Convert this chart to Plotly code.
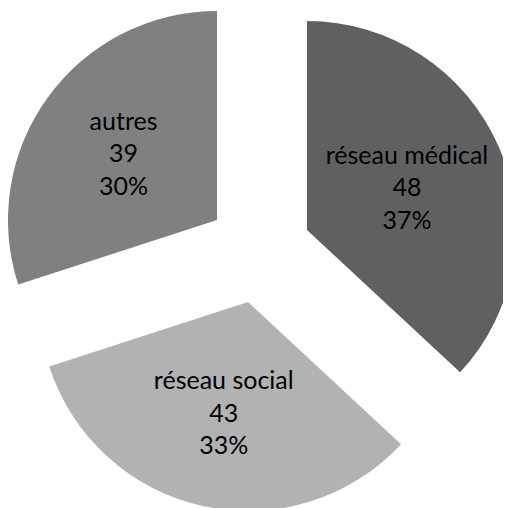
import plotly.graph_objects as go

labels = ["réseau médical", "réseau social", "autres"]
values = [48, 43, 39]
colors = ["#606060", "#b2b2b2", "#808080"]

# Page-pixel geometry of each exploded slice: (apex x, apex y)
W, H = 511, 508
OFF = 8  # page body margin
R = 209
apex = [(307, 230), (248, 302), (217, 220)]

fig = go.Figure()
for i, (ax, ay) in enumerate(apex):
    cx, cy = ax - OFF, ay - OFF
    h = min(R, cx, W - cx, cy, H - cy)
    x0, x1 = (cx - h) / W, (cx + h) / W
    y0, y1 = 1 - (cy + h) / H, 1 - (cy - h) / H
    mc = [colors[j] if j == i else "rgba(0,0,0,0)" for j in range(len(values))]
    tt = ["%{label}<br>%{value}<br>%{percent:.0%}" if j == i else "" for j in range(len(values))]
    fig.add_trace(go.Pie(
        labels=labels, values=values, sort=False, direction="clockwise", rotation=0,
        marker=dict(colors=mc, line=dict(width=0)),
        texttemplate=tt, textposition="inside", insidetextorientation="horizontal",
        textfont=dict(family="Lato", size=25, color="black"),
        domain=dict(x=[max(0, x0), min(1, x1)], y=[max(0, y0), min(1, y1)]),
        showlegend=False, hoverinfo="skip",
    ))

fig.update_layout(width=W, height=H, margin=dict(l=0, r=0, t=0, b=0),
                  paper_bgcolor="white", plot_bgcolor="white")
fig.write_html("out.html")
